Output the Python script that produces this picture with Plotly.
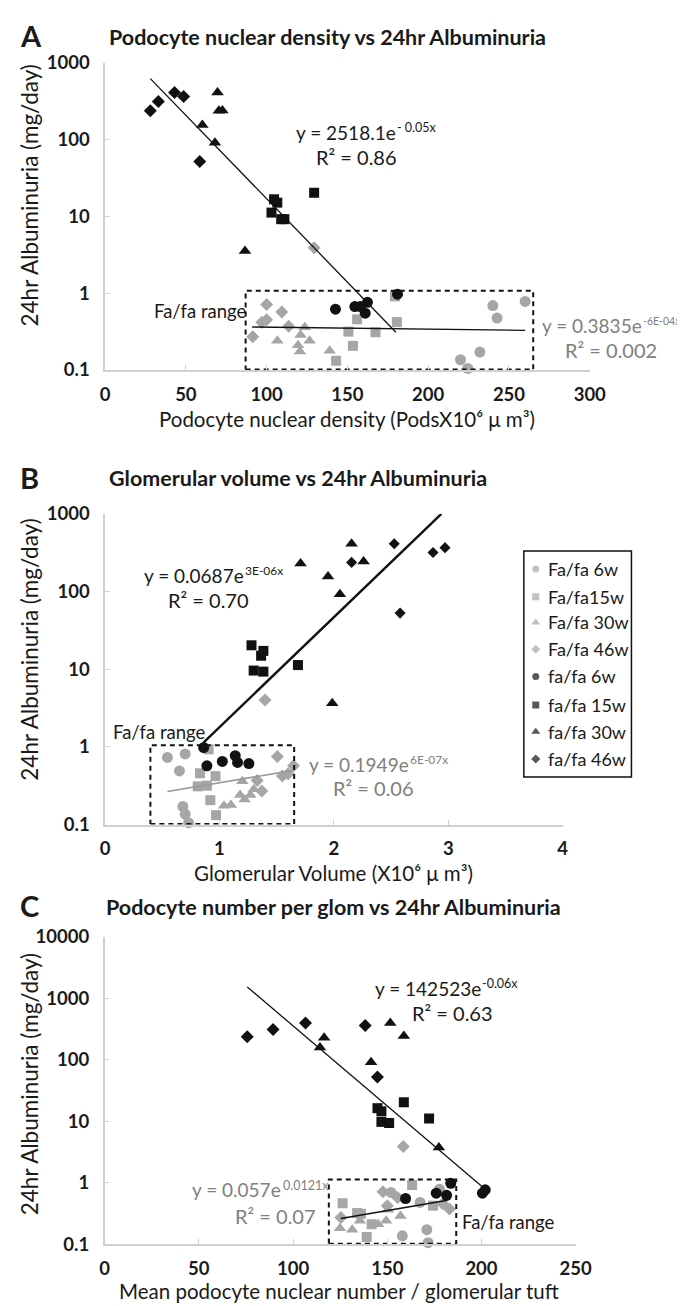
import numpy as np
import plotly.graph_objects as go

W, H = 685, 1306

# ---------------- data ----------------
GROUPS = ["Fa/fa 6w", "Fa/fa15w", "Fa/fa 30w", "Fa/fa 46w",
          "fa/fa 6w", "fa/fa 15w", "fa/fa 30w", "fa/fa 46w"]

# Panel A: podocyte nuclear density vs albuminuria
A_Fafa6w_x = [220, 224.5, 232, 240, 242.6, 260]
A_Fafa6w_y = [0.136, 0.105, 0.171, 0.69, 0.475, 0.78]
A_Fafa15w_x = [143, 150.6, 153.4, 156, 167.4, 179.4, 180.6]
A_Fafa15w_y = [0.132, 0.316, 0.206, 0.457, 0.31, 0.91, 0.42]
A_Fafa30w_x = [106.6, 119.4, 120.6, 121, 123.6, 126.6, 139]
A_Fafa30w_y = [0.24, 0.21, 0.174, 0.285, 0.36, 0.24, 0.178]
A_Fafa46w_x = [91.4, 97, 100, 100, 109.4, 113.6, 129.4]
A_Fafa46w_y = [0.27, 0.42, 0.45, 0.71, 0.57, 0.37, 3.9]
A_fafa6w_x = [142.6, 154.6, 158, 161, 162.4, 181]
A_fafa6w_y = [0.62, 0.67, 0.67, 0.55, 0.76, 0.97]
A_fafa15w_x = [103, 104.6, 106.6, 109, 111, 129.4]
A_fafa15w_y = [11.2, 16.7, 15.1, 9.2, 9.2, 20.3]
A_fafa30w_x = [60.2, 68, 69.6, 70.4, 72.6, 86.6]
A_fafa30w_y = [155, 91, 409, 238, 240, 3.55]
A_fafa46w_x = [28, 33, 43, 48.6, 58.6]
A_fafa46w_y = [238, 313, 409, 363, 52]

# Panel B: glomerular volume (x10^6 um^3) vs albuminuria
B_Fafa6w_x = [0.545, 0.65, 0.70, 0.68, 0.70, 0.73]
B_Fafa6w_y = [0.73, 0.49, 0.81, 0.171, 0.136, 0.105]
B_Fafa15w_x = [0.97, 0.89, 0.92, 0.83, 0.81, 0.905, 0.965]
B_Fafa15w_y = [0.132, 0.316, 0.206, 0.457, 0.31, 0.93, 0.42]
B_Fafa30w_x = [1.20, 1.30, 1.27, 1.18, 1.22, 1.04, 1.10]
B_Fafa30w_y = [0.36, 0.285, 0.24, 0.24, 0.21, 0.174, 0.178]
B_Fafa46w_x = [1.37, 1.33, 1.55, 1.506, 1.647, 1.60, 1.398]
B_Fafa46w_y = [0.27, 0.37, 0.42, 0.75, 0.57, 0.45, 4.0]
B_fafa6w_x = [0.862, 0.890, 1.025, 1.138, 1.158, 1.257]
B_fafa6w_y = [0.98, 0.57, 0.65, 0.77, 0.63, 0.61]
B_fafa15w_x = [1.280, 1.384, 1.364, 1.299, 1.384, 1.686]
B_fafa15w_y = [20.3, 17.2, 14.9, 9.6, 9.3, 11.3]
B_fafa30w_x = [1.709, 1.949, 1.986, 2.053, 2.155, 2.260]
B_fafa30w_y = [230, 156, 3.64, 92.5, 412, 244]
B_fafa46w_x = [2.155, 2.528, 2.579, 2.867, 2.972]
B_fafa46w_y = [237, 412, 52.7, 317, 367]

# Panel C: podocyte number per glom vs albuminuria
C_Fafa6w_x = [152, 158, 167.4, 171, 171.7, 177.7]
C_Fafa6w_y = [0.69, 0.136, 0.475, 0.171, 0.105, 0.78]
C_Fafa15w_x = [126.3, 134, 136, 139.1, 141.7, 163.2, 174.3]
C_Fafa15w_y = [0.46, 0.32, 0.31, 0.13, 0.21, 0.91, 0.42]
C_Fafa30w_x = [124.9, 131.4, 135.5, 145.2, 149.4, 150.3, 157]
C_Fafa30w_y = [0.18, 0.17, 0.24, 0.21, 0.24, 0.36, 0.285]
C_Fafa46w_x = [125.4, 147.7, 150, 155.5, 158.5, 179.4, 183]
C_Fafa46w_y = [0.27, 0.71, 0.42, 0.57, 3.85, 0.45, 0.37]
C_fafa6w_x = [159.7, 176, 181.5, 183.7, 200.5, 202]
C_fafa6w_y = [0.55, 0.67, 0.62, 0.97, 0.67, 0.76]
C_fafa15w_x = [144.8, 146.9, 146.9, 151, 158.8, 172.2]
C_fafa15w_y = [16.2, 14.4, 9.7, 9.3, 20.2, 11]
C_fafa30w_x = [114.3, 116.5, 141.4, 151.6, 158.8, 177.4]
C_fafa30w_y = [157, 227, 90.6, 395, 242, 3.7]
C_fafa46w_x = [75.7, 89.4, 106.6, 138.3, 144.8]
C_fafa46w_y = [236, 309, 395, 358, 52]

# exponential trend lines: a, b, x start, x end
A_trend_all = [2518.1, -0.05, 28, 180]
A_trend_Fa = [0.3835, -6e-4, 91, 260]
B_trend_all = [0.0687, 3.26, 0.862, 2.94]
B_trend_Fa = [0.1949, 0.57, 0.545, 1.647]
C_trend_all = [142523, -0.06, 75.7, 202]
C_trend_Fa = [0.057, 0.0121, 125.4, 182]

# "Fa/fa range" boxes: x0, x1, y0, y1
A_box = [87, 265, 0.1, 1.08]
B_box = [0.396, 1.653, 0.1, 1.05]
C_box = [119, 186.6, 0.1, 1.12]

Y_TICKS_AB = [0.1, 1, 10, 100, 1000]
Y_TICKS_C = [0.1, 1, 10, 100, 1000, 10000]
X_TICKS_A = [0, 50, 100, 150, 200, 250, 300]
X_TICKS_B = [0, 1, 2, 3, 4]
X_TICKS_C = [0, 50, 100, 150, 200, 250]

# ---------------- style ----------------
GRAY = "#a6a6a6"
BLACK = "#111111"
EQ_GRAY = "#808080"
AXIS_GRAY = "#d0d0d0"
FONT = "Lato, 'Open Sans', sans-serif"
SYMBOLS = ["circle", "square", "triangle-up", "diamond"] * 2
COLORS = [GRAY] * 4 + [BLACK] * 4
SIZES = [11, 10, 11, 10, 11, 10, 11, 10]
EQ = 20


def fx(px):
    return px / W


def fy(py):
    return 1 - py / H


fig = go.Figure()

panels = [
    ("x", "y", [
        (A_Fafa6w_x, A_Fafa6w_y), (A_Fafa15w_x, A_Fafa15w_y), (A_Fafa30w_x, A_Fafa30w_y),
        (A_Fafa46w_x, A_Fafa46w_y), (A_fafa6w_x, A_fafa6w_y), (A_fafa15w_x, A_fafa15w_y),
        (A_fafa30w_x, A_fafa30w_y), (A_fafa46w_x, A_fafa46w_y)],
     [(A_trend_all, BLACK, 1.3), (A_trend_Fa, BLACK, 1.3)], A_box, 1.0),
    ("x2", "y2", [
        (B_Fafa6w_x, B_Fafa6w_y), (B_Fafa15w_x, B_Fafa15w_y), (B_Fafa30w_x, B_Fafa30w_y),
        (B_Fafa46w_x, B_Fafa46w_y), (B_fafa6w_x, B_fafa6w_y), (B_fafa15w_x, B_fafa15w_y),
        (B_fafa30w_x, B_fafa30w_y), (B_fafa46w_x, B_fafa46w_y)],
     [(B_trend_all, BLACK, 2.4), (B_trend_Fa, "#999999", 1.6)], B_box, 0.85),
    ("x3", "y3", [
        (C_Fafa6w_x, C_Fafa6w_y), (C_Fafa15w_x, C_Fafa15w_y), (C_Fafa30w_x, C_Fafa30w_y),
        (C_Fafa46w_x, C_Fafa46w_y), (C_fafa6w_x, C_fafa6w_y), (C_fafa15w_x, C_fafa15w_y),
        (C_fafa30w_x, C_fafa30w_y), (C_fafa46w_x, C_fafa46w_y)],
     [(C_trend_all, BLACK, 1.3), (C_trend_Fa, BLACK, 1.5)], C_box, 1.0),
]

for xa, ya, series, trends, box, dscale in panels:
    for i, (xs, ys) in enumerate(series):
        size = SIZES[i] * (dscale if SYMBOLS[i] == "diamond" and COLORS[i] == BLACK else 1)
        fig.add_trace(go.Scatter(
            x=xs, y=ys, mode="markers", xaxis=xa, yaxis=ya, showlegend=False,
            cliponaxis=False, name=GROUPS[i],
            marker=dict(symbol=SYMBOLS[i], color=COLORS[i], size=size, line=dict(width=0))))
    x0, x1, y0, y1 = box
    fig.add_trace(go.Scatter(
        x=[x0, x1, x1, x0, x0], y=[y0 * 1.012, y0 * 1.012, y1, y1, y0 * 1.012],
        mode="lines", xaxis=xa, yaxis=ya, showlegend=False,
        line=dict(color=BLACK, width=2, dash="5px,4px")))
    for (a, b, t0, t1), col, lw in trends:
        tx = np.linspace(t0, t1, 60)
        fig.add_trace(go.Scatter(
            x=tx, y=a * np.exp(b * tx), mode="lines", xaxis=xa, yaxis=ya,
            showlegend=False, line=dict(color=col, width=lw)))

# legend drawn in its own small hidden axes
LEG_ROWS = [18.3, 46.7, 72.7, 100, 127.7, 156.7, 184, 211.7]
LEG_SIZES = [7, 7, 8, 7, 7, 7, 8, 7]
fig.add_trace(go.Scatter(
    x=[12.3] * 8, y=LEG_ROWS, mode="markers", xaxis="x4", yaxis="y4", showlegend=False,
    marker=dict(symbol=SYMBOLS, color=COLORS, size=LEG_SIZES, line=dict(width=0))))

tickfont = dict(family=FONT, size=18.5, color="#1a1a1a", weight="bold")
common = dict(showline=True, linecolor=AXIS_GRAY, linewidth=1.5, ticks="inside",
              ticklen=5, tickcolor=AXIS_GRAY, tickwidth=1.2, showgrid=False,
              zeroline=False, tickfont=tickfont)

layout = dict(
    width=W, height=H, margin=dict(l=0, r=0, t=0, b=0),
    paper_bgcolor="white", plot_bgcolor="white", showlegend=False,
    xaxis=dict(domain=[fx(95), fx(595)], range=[0, 300], tickvals=X_TICKS_A,
               anchor="y", ticklabelstandoff=7, **common),
    yaxis=dict(domain=[fy(356), fy(43.5)], type="log", range=[-1, 3], tickvals=Y_TICKS_AB,
               ticktext=[str(v) for v in Y_TICKS_AB], anchor="x", ticklabelstandoff=10, **common),
    xaxis2=dict(domain=[fx(95), fx(567)], range=[0, 4], tickvals=X_TICKS_B,
                anchor="y2", ticklabelstandoff=7, **common),
    yaxis2=dict(domain=[fy(818.3), fy(502.3)], type="log", range=[-1, 3], tickvals=Y_TICKS_AB,
                ticktext=[str(v) for v in Y_TICKS_AB], anchor="x2", ticklabelstandoff=10, **common),
    xaxis3=dict(domain=[fx(94.5), fx(580.5)], range=[0, 250], tickvals=X_TICKS_C,
                anchor="y3", ticklabelstandoff=7, **common),
    yaxis3=dict(domain=[fy(1245), fy(932.3)], type="log", range=[-1, 4], tickvals=Y_TICKS_C,
                ticktext=[str(v) for v in Y_TICKS_C], anchor="x3", ticklabelstandoff=10, **common),
    xaxis4=dict(domain=[fx(527), fx(638)], range=[0, 111], visible=False,
                showticklabels=False, anchor="y4"),
    yaxis4=dict(domain=[fy(770), fy(540)], range=[230, 0], visible=False,
                showticklabels=False, anchor="x4"),
)
fig.update_layout(**layout)

shapes = [dict(type="rect", xref="paper", yref="paper", x0=fx(527), x1=fx(638),
               y0=fy(770), y1=fy(540), line=dict(color=BLACK, width=1.5))]
fig.update_layout(shapes=shapes)

ann = []


def text(s, px, py, size=EQ, color="#1a1a1a", bold=False, anchor="left", angle=0):
    ann.append(dict(text=s, x=fx(px), y=fy(py), xref="paper", yref="paper",
                    showarrow=False, xanchor=anchor, yanchor="middle", textangle=angle,
                    borderpad=0, font=dict(family=FONT, size=size, color=color,
                                           weight="bold" if bold else "normal")))


def equation(main, sup, split_px, py, color="#1a1a1a", sup_size=12.5, size=19):
    text(main, split_px, py, size=size, color=color, anchor="right")
    text(sup, split_px - 1, py - 5, size=sup_size, color=color, anchor="left")


# panel letters and titles
text("A", 6, 16, size=29, bold=True)
text("Podocyte nuclear density vs 24hr Albuminuria", 98, 17, size=21.5, bold=True)
text("B", 6, 465, size=29, bold=True)
text("Glomerular volume vs 24hr Albuminuria", 98, 466, size=21.5, bold=True)
text("C", 6, 901, size=29, bold=True)
text("Podocyte number per glom vs 24hr Albuminuria", 95, 902, size=21.5, bold=True)

# axis titles
for cy in (178, 640, 1082):
    text("24hr Albuminuria (mg/day)", 17, cy, size=22.5, anchor="center", angle=-90)
text("Podocyte nuclear density (PodsX10⁶ μ m³)", 345, 406, size=20.5, anchor="center")
text("Glomerular Volume (X10⁶ μ m³)", 331, 868, size=20.5, anchor="center")
text("Mean podocyte nuclear number / glomerular tuft", 336, 1293, size=20.5, anchor="center")

# equations
equation("y = 2518.1e", "- 0.05x", 396, 114)
text("R² = 0.86", 312, 139)
equation("y = 0.3835e", "-6E-04x", 650, 311, color=EQ_GRAY, sup_size=10.5)
text("R² = 0.002", 568, 336, color=EQ_GRAY)
text("Fa/fa range", 144, 296, size=18.5)

equation("y = 0.0687e", "3E-06x", 239, 565, sup_size=12)
text("R² = 0.70", 159, 590)
text("Fa/fa range", 102, 724, size=18.5)
equation("y = 0.1949e", "6E-07x", 410, 757, color=EQ_GRAY, sup_size=12)
text("R² = 0.06", 329, 781, color=EQ_GRAY)

equation("y = 142523e", "-0.06x", 484, 985)
text("R² = 0.63", 411, 1010)
equation("y = 0.057e", "0.0121x", 278, 1190, color=EQ_GRAY)
text("R² = 0.07", 228, 1216, color=EQ_GRAY)
text("Fa/fa range", 462, 1223, size=18.5)

# legend labels
for lab, ry in zip(GROUPS, LEG_ROWS):
    text(lab, 551, 540 + ry, size=18)

fig.update_layout(annotations=ann)
fig.write_html("out.html")
